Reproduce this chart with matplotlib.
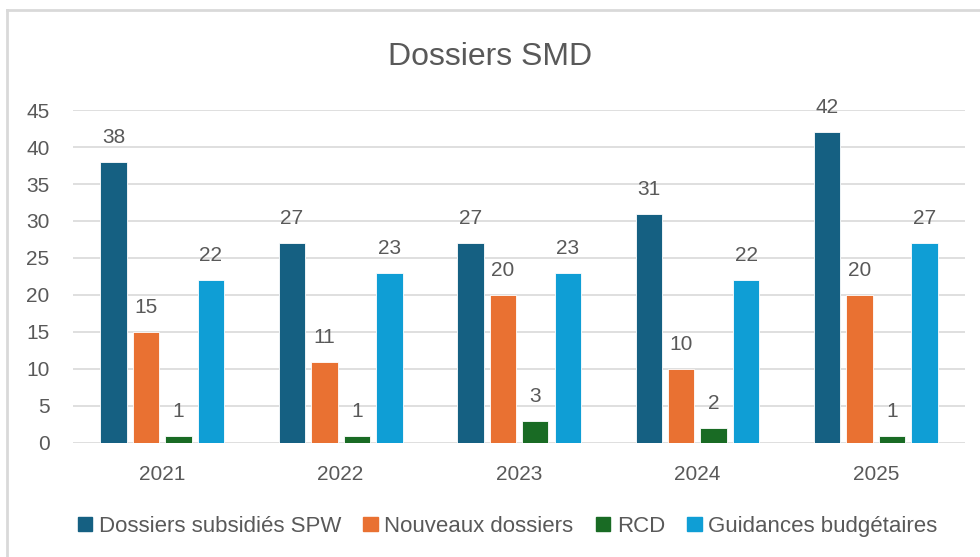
import matplotlib.pyplot as plt
import numpy as np
from matplotlib.lines import Line2D

plt.rcParams['font.family'] = ['Liberation Sans', 'DejaVu Sans']

# Data
years = ['2021', '2022', '2023', '2024', '2025']
series_names = ['Dossiers subsidiés SPW', 'Nouveaux dossiers', 'RCD', 'Guidances budgétaires']
spw = [38, 27, 27, 31, 42]
nouveaux = [15, 11, 20, 10, 20]
rcd = [1, 1, 3, 2, 1]
guidances = [22, 23, 23, 22, 27]
colors = ['#156082', '#E97132', '#196B24', '#0F9ED5']

text_color = '#595959'

fig = plt.figure(figsize=(9.8, 5.57), dpi=100)
ax = fig.add_axes([0.0745, 0.2047, 0.9102, 0.5978])

x = np.arange(len(years))
width = 0.148
step = 0.182
offsets = (np.arange(4) - 1.5) * step

for i, (vals, name) in enumerate(zip([spw, nouveaux, rcd, guidances], series_names)):
    bars = ax.bar(x + offsets[i], vals, width, color=colors[i], label=name,
                  edgecolor='white', linewidth=0.6, zorder=3)
    for b, v in zip(bars, vals):
        ax.text(b.get_x() + b.get_width() / 2, v + 2.0, str(v), ha='center', va='bottom',
                fontsize=15, color=text_color)

ax.set_xlim(-0.5, 4.5)
ax.set_ylim(0, 45)
ax.set_yticks(range(0, 46, 5))
ax.set_xticks(x)
ax.set_xticklabels(years)
ax.tick_params(axis='both', length=0, labelsize=15, colors=text_color)
ax.tick_params(axis='x', pad=16)
ax.tick_params(axis='y', pad=17)
ax.grid(axis='y', color='#D9D9D9', linewidth=1.2, zorder=0)
for s in ax.spines.values():
    s.set_visible(False)

fig.text(0.5, 0.897, 'Dossiers SMD', ha='center', va='center', fontsize=23, color=text_color)

handles = [plt.Rectangle((0, 0), 1, 1, color=c) for c in colors]
fig.legend(handles, series_names, loc='center', bbox_to_anchor=(0.518, 0.055), ncol=4,
           frameon=False, fontsize=16, labelcolor=text_color, handlelength=0.65,
           handleheight=0.65, handletextpad=0.3, columnspacing=1.0)

# outer chart border (top and left visible)
fig.add_artist(Line2D([7 / 980, 7 / 980], [0, 1 - 10 / 557], transform=fig.transFigure,
                      color='#D9D9D9', linewidth=2))
fig.add_artist(Line2D([7 / 980, 1], [1 - 10 / 557, 1 - 10 / 557], transform=fig.transFigure,
                      color='#D9D9D9', linewidth=2))

fig.savefig('out.png', dpi=100)
